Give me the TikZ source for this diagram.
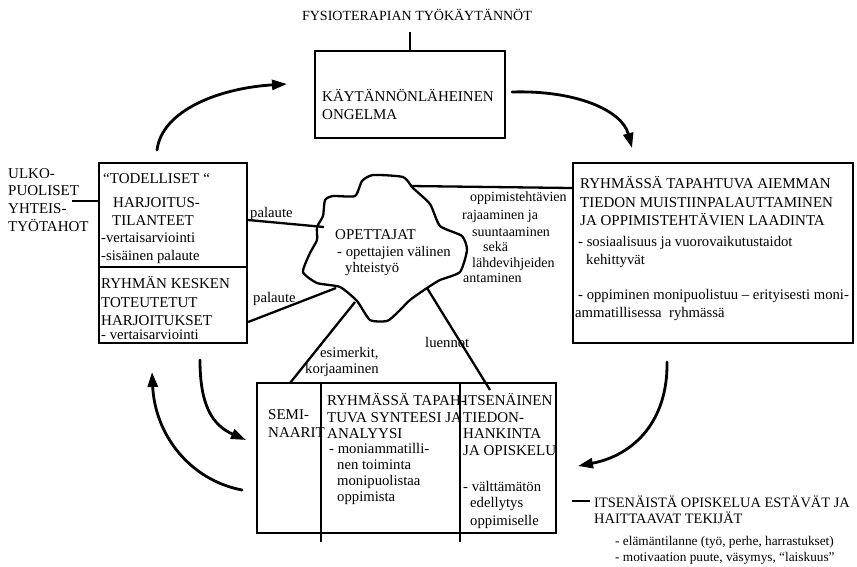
\documentclass[tikz,border=0pt]{standalone}
\usepackage{fontspec}
\setmainfont{Liberation Serif}
\usetikzlibrary{arrows.meta}
\begin{document}
\begin{tikzpicture}[x=1pt,y=-1pt,
  big/.style={font=\fontsize{15}{17}\selectfont, inner sep=0pt, anchor=base west},
  bigs/.style={font=\fontsize{14.4}{17}\selectfont, inner sep=0pt, anchor=base west},
  sml/.style={font=\fontsize{14.7}{17}\selectfont, inner sep=0pt, anchor=base west},
  lbl/.style={font=\fontsize{14}{16}\selectfont, inner sep=0pt, anchor=base west},
  note/.style={font=\fontsize{13.3}{15}\selectfont, inner sep=0pt, anchor=base west},
  box/.style={draw, line width=2.3pt, inner sep=0pt},
  conn/.style={line width=2.3pt},
  flow/.style={line width=2.8pt, -{Triangle[length=15pt,width=10pt]}, line cap=round}]
\useasboundingbox[fill=white] (0,0) rectangle (857,566);

% ---- boxes
\node[box, minimum width=190pt, minimum height=87pt] (top) at (410,94.5) {};
\node[box, minimum width=148pt, minimum height=180pt] (lbox) at (173,253) {};
\node[box, minimum width=280pt, minimum height=180pt] (rbox) at (713,253) {};
\node[box, minimum width=299pt, minimum height=150pt] (bbox) at (406.5,458) {};
\draw[conn] (lbox.west |- 0,267) -- (lbox.east |- 0,267);
\coordinate (dv1) at (321,542);
\coordinate (dv2) at (460,542);
\draw[conn] (dv1 |- bbox.north) -- (dv1);
\draw[conn] (dv2 |- bbox.north) -- (dv2);

% ---- title
\node[font=\fontsize{14}{16}\selectfont, inner sep=0pt] (title) at (417,15) {FYSIOTERAPIAN TYÖKÄYTÄNNÖT};
\draw[conn] (top.north) -- (top.north |- 0,32);

\node[big] (t1) at (322,101) {KÄYTÄNNÖNLÄHEINEN};
\node[big] (t2) at (322,119) {ONGELMA};

% ---- cloud
\draw[conn, line join=round] plot[smooth cycle, tension=0.35] coordinates {
 (325,200) (333,196) (355,196) (362,181) (373,175) (403,177) (413,188) (430,204)
 (440,226) (462,236) (467,250) (460,272) (440,280) (427,288) (410,300) (397,313)
 (387,321) (370,320) (357,301) (340,287) (317,283) (303,272) (310,253) (317,240)
 (317,227) (323,216)};
\coordinate (cl1) at (324,227);
\coordinate (cl2) at (336,288);
\coordinate (cl3) at (410,186);
\coordinate (cl4) at (355,302);
\coordinate (cl5) at (427,288);

\node[big] (o1) at (335,239) {OPETTAJAT};
\node[sml] (o2) at (337,256) {- opettajien välinen};
\node[sml] (o3) at (345,272) {yhteistyö};

% ---- ulkopuoliset
\node[big] (u1) at (8,178) {ULKO-};
\node[big] (u2) at (8,195) {PUOLISET};
\node[big] (u3) at (8,213) {YHTEIS-};
\node[big] (u4) at (8,231) {TYÖTAHOT};
\coordinate (ul) at (72,201);
\draw[conn] (ul) -- (ul -| lbox.west);

% ---- left box text
\node[big] (l1) at (103,183) {“TODELLISET “};
\node[big] (l2) at (113,207) {HARJOITUS-};
\node[big] (l3) at (112,225) {TILANTEET};
\node[sml] (l4) at (101,242) {-vertaisarviointi};
\node[sml] (l5) at (101,260) {-sisäinen palaute};
\node[big] (l6) at (101,288) {RYHMÄN KESKEN};
\node[big] (l7) at (101,307) {TOTEUTETUT};
\node[big] (l8) at (101,325) {HARJOITUKSET};
\node[sml] (l9) at (101,339) {- vertaisarviointi};

% ---- connectors to cloud
\node[sml] (p1) at (250,217) {palaute};
\node[sml] (p2) at (253,302) {palaute};
\draw[conn] (lbox.east |- 0,220) -- (cl1);
\draw[conn] (lbox.east |- 0,322) -- (cl2);
\draw[conn] (cl3) -- (rbox.west |- 0,188);
\coordinate (bb1) at (290,383);
\coordinate (bb2) at (490,390);
\draw[conn] (cl4) -- (bb1);
\draw[conn] (cl5) -- (bb2);

\node[lbl] (m1) at (470,201) {oppimistehtävien};
\node[lbl] (m2) at (462,219) {rajaaminen ja};
\node[lbl] (m3) at (472,236) {suuntaaminen};
\node[lbl] (m4) at (483,251) {sekä};
\node[lbl] (m5) at (472,267) {lähdevihjeiden};
\node[lbl] (m6) at (463,282) {antaminen};

\node[sml] (e1) at (320,357) {esimerkit,};
\node[sml] (e2) at (305,373) {korjaaminen};
\node[sml] (lu) at (425,347) {luennot};

% ---- right box text
\node[big] (r1) at (580,188) {RYHMÄSSÄ TAPAHTUVA AIEMMAN};
\node[big] (r2) at (580,207) {TIEDON MUISTIINPALAUTTAMINEN};
\node[big] (r3) at (580,225) {JA OPPIMISTEHTÄVIEN LAADINTA};
\node[sml] (r4) at (578,246) {- sosiaalisuus ja vuorovaikutustaidot};
\node[sml] (r5) at (586,264) {kehittyvät};
\node[sml] (r6) at (578,299) {- oppiminen monipuolistuu – erityisesti moni-};
\node[sml] (r7) at (575,317) {ammatillisessa\ \ ryhmässä};

% ---- bottom box text
\node[big] (b1) at (268,419) {SEMI-};
\node[big] (b2) at (268,437) {NAARIT};
\node[big] (b3) at (327,405) {RYHMÄSSÄ TAPAH-};
\node[big] (b4) at (327,422) {TUVA SYNTEESI JA};
\node[big] (b5) at (327,438) {ANALYYSI};
\node[sml] (b6) at (329,453) {- moniammatilli-};
\node[sml] (b7) at (337,469) {nen toiminta};
\node[sml] (b8) at (337,485) {monipuolistaa};
\node[sml] (b9) at (337,501) {oppimista};
\node[big] (c1) at (463,405) {ITSENÄINEN};
\node[big] (c2) at (463,422) {TIEDON-};
\node[big] (c3) at (463,438) {HANKINTA};
\node[big] (c4) at (463,455) {JA OPISKELU};
\node[sml] (c5) at (463,491) {- välttämätön};
\node[sml] (c6) at (470,507) {edellytys};
\node[sml] (c7) at (470,525) {oppimiselle};

% ---- bottom right
\node[bigs] (h1) at (594,507) {ITSENÄISTÄ OPISKELUA ESTÄVÄT JA};
\node[bigs] (h2) at (594,523) {HAITTAAVAT TEKIJÄT};
\node[note] (h3) at (615,545) {- elämäntilanne (työ, perhe, harrastukset)};
\node[note] (h4) at (615,561) {- motivaation puute, väsymys, “laiskuus”};
\coordinate (hd) at (572,501);
\coordinate (he) at (590,501);
\draw[conn] (hd) -- (he);

% ---- flow arrows
\coordinate (a1s) at (157,150); \coordinate (a1e) at (287,84);
\coordinate (a2s) at (512,92);  \coordinate (a2e) at (632,148);
\coordinate (a3s) at (667,362); \coordinate (a3e) at (578,466);
\coordinate (a4s) at (200,360); \coordinate (a4e) at (246,440);
\coordinate (a5s) at (242,490); \coordinate (a5e) at (152,372);
\draw[flow] (a1s) .. controls (162,110) and (220,88) .. (a1e);
\draw[flow] (a2s) .. controls (575,90) and (622,110) .. (a2e);
\draw[flow] (a3s) .. controls (668,420) and (635,455) .. (a3e);
\draw[flow] (a4s) .. controls (200,405) and (212,425) .. (a4e);
\draw[flow] (a5s) .. controls (190,480) and (155,435) .. (a5e);
\end{tikzpicture}
\end{document}
